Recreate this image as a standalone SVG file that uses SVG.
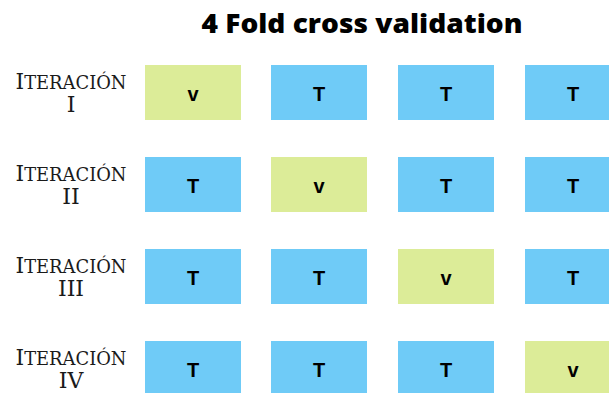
<svg xmlns="http://www.w3.org/2000/svg" width="609" height="393" viewBox="0 0 609 393">
  <style>
    .title { font-family: "Open Sans", "Liberation Sans", sans-serif; font-weight: 800; font-size: 27px; fill: #000; }
    .lbl { font-family: "DejaVu Serif", serif; font-size: 22px; fill: #1a1a1a; text-anchor: middle; }
    .sc { font-size: 18px; }
    .val { fill: #dcec98; }
    .trn { fill: #6fcbf7; }
    .cell text { font-family: "Liberation Sans", Arial, sans-serif; font-weight: 700; font-size: 20px; fill: #000; text-anchor: middle; }
  </style>

  <text class="title" x="362" y="33" text-anchor="middle" textLength="321" lengthAdjust="spacingAndGlyphs">4 Fold cross validation</text>

  <!-- row labels, drawn as small caps -->
  <g id="label-1"><text class="lbl" x="71" y="89" textLength="111" lengthAdjust="spacingAndGlyphs">I<tspan class="sc">TERACIÓN</tspan></text><text class="lbl" x="71" y="112">I</text></g>
  <g id="label-2"><text class="lbl" x="71" y="181" textLength="111" lengthAdjust="spacingAndGlyphs">I<tspan class="sc">TERACIÓN</tspan></text><text class="lbl" x="71" y="204">II</text></g>
  <g id="label-3"><text class="lbl" x="71" y="273" textLength="111" lengthAdjust="spacingAndGlyphs">I<tspan class="sc">TERACIÓN</tspan></text><text class="lbl" x="71" y="296">III</text></g>
  <g id="label-4"><text class="lbl" x="71" y="365" textLength="111" lengthAdjust="spacingAndGlyphs">I<tspan class="sc">TERACIÓN</tspan></text><text class="lbl" x="71" y="388">IV</text></g>

  <!-- row 1 -->
  <g id="r1c1" class="cell"><rect class="val" x="145" y="65" width="96" height="55"/><text x="193" y="101">v</text></g>
  <g id="r1c2" class="cell"><rect class="trn" x="271" y="65" width="96" height="55"/><text x="319" y="101">T</text></g>
  <g id="r1c3" class="cell"><rect class="trn" x="398" y="65" width="96" height="55"/><text x="446" y="101">T</text></g>
  <g id="r1c4" class="cell"><rect class="trn" x="525" y="65" width="96" height="55"/><text x="573" y="101">T</text></g>

  <!-- row 2 -->
  <g id="r2c1" class="cell"><rect class="trn" x="145" y="157" width="96" height="55"/><text x="193" y="193">T</text></g>
  <g id="r2c2" class="cell"><rect class="val" x="271" y="157" width="96" height="55"/><text x="319" y="193">v</text></g>
  <g id="r2c3" class="cell"><rect class="trn" x="398" y="157" width="96" height="55"/><text x="446" y="193">T</text></g>
  <g id="r2c4" class="cell"><rect class="trn" x="525" y="157" width="96" height="55"/><text x="573" y="193">T</text></g>

  <!-- row 3 -->
  <g id="r3c1" class="cell"><rect class="trn" x="145" y="249" width="96" height="55"/><text x="193" y="285">T</text></g>
  <g id="r3c2" class="cell"><rect class="trn" x="271" y="249" width="96" height="55"/><text x="319" y="285">T</text></g>
  <g id="r3c3" class="cell"><rect class="val" x="398" y="249" width="96" height="55"/><text x="446" y="285">v</text></g>
  <g id="r3c4" class="cell"><rect class="trn" x="525" y="249" width="96" height="55"/><text x="573" y="285">T</text></g>

  <!-- row 4 -->
  <g id="r4c1" class="cell"><rect class="trn" x="145" y="341" width="96" height="55"/><text x="193" y="377">T</text></g>
  <g id="r4c2" class="cell"><rect class="trn" x="271" y="341" width="96" height="55"/><text x="319" y="377">T</text></g>
  <g id="r4c3" class="cell"><rect class="trn" x="398" y="341" width="96" height="55"/><text x="446" y="377">T</text></g>
  <g id="r4c4" class="cell"><rect class="val" x="525" y="341" width="96" height="55"/><text x="573" y="377">v</text></g>

  <g id="connectors"/>
</svg>
